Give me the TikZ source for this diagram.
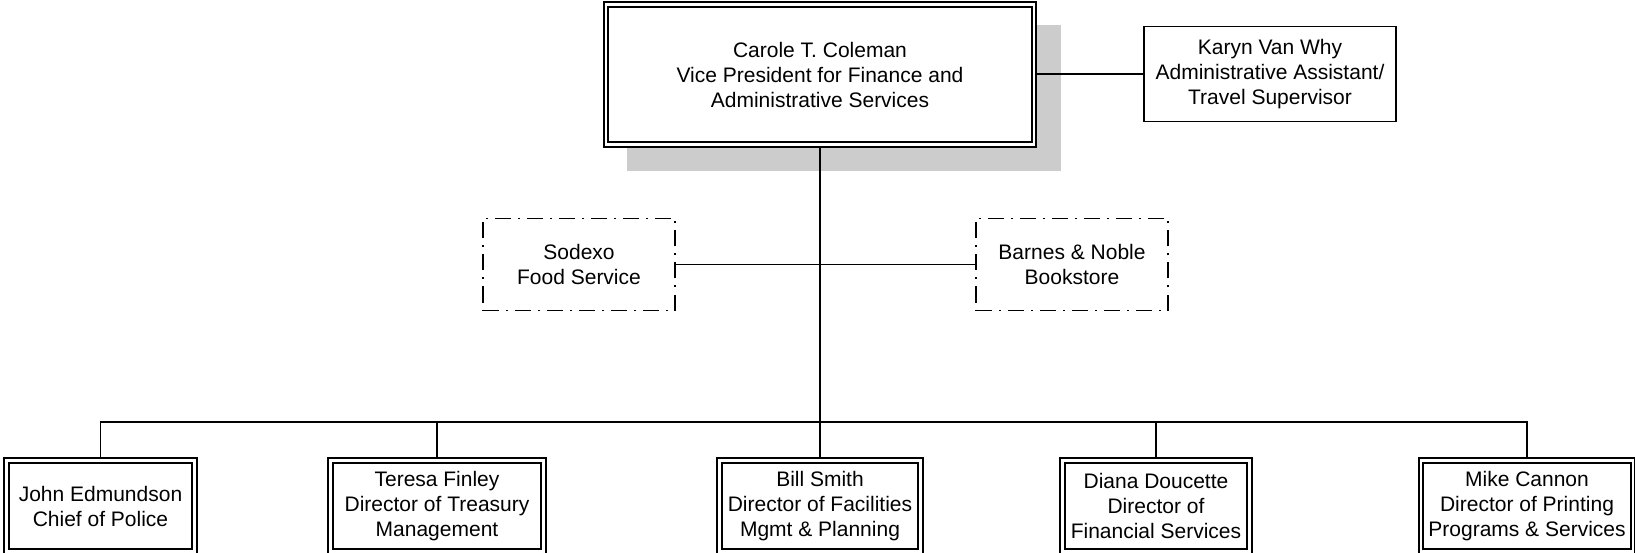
\documentclass[tikz,border=0pt]{standalone}
\usepackage{fontspec}
\setmainfont{Liberation Sans}
\usetikzlibrary{backgrounds}
\begin{document}
\begin{tikzpicture}[x=1pt,y=-1pt,
  every node/.style={font=\fontsize{21}{25}\selectfont, align=center, inner sep=0pt},
  dblbox/.style={draw, line width=1.6pt, double=white, double distance=2.9pt, fill=white, outer sep=3pt},
  plainbox/.style={draw, line width=1.8pt, fill=white},
  dashbox/.style={draw, line width=1.8pt, dash pattern=on 16pt off 7pt on 2pt off 7pt},
  conn/.style={line width=1.8pt},
  botbox/.style={dblbox, minimum height=91pt},
]
\useasboundingbox (0,0) rectangle (1635,553);

\node[dblbox, minimum width=428pt, minimum height=140pt] (vp) at (820,74.5)
  {Carole T. Coleman\\Vice President for Finance and\\Administrative Services};
\begin{scope}[on background layer]
  \fill[gray!40] ([shift={(24,24)}]vp.north west) rectangle ([shift={(24,24)}]vp.south east);
\end{scope}

\node[plainbox, minimum width=252pt, minimum height=95pt] (kvw) at (1270,74)
  {Karyn Van Why\\Administrative Assistant/\\Travel Supervisor};

\node[dashbox, minimum width=192pt, minimum height=92pt] (sod) at (579,264.5) {Sodexo\\Food Service};
\node[dashbox, minimum width=192pt, minimum height=92pt] (bn) at (1072,264.5) {Barnes \& Noble\\Bookstore};

\node[botbox, minimum width=188pt] (john) at (100.5,506) {John Edmundson\\Chief of Police};
\node[botbox, minimum width=213pt] (teresa) at (437,506) {Teresa Finley\\Director of Treasury\\Management};
\node[botbox, minimum width=201pt] (bill) at (820,506) {Bill Smith\\Director of Facilities\\Mgmt \& Planning};
\node[botbox, minimum width=187pt] (diana) at (1156,506) {Diana Doucette\\Director of\\Financial Services};
\node[botbox, minimum width=212pt] (mike) at (1527,506) {Mike Cannon\\Director of Printing\\Programs \& Services};

\coordinate (bus) at (820,422);

\draw[conn] (kvw.west) -- (kvw.west -| vp.east);
\draw[conn] (sod.east) -- (bn.west);
\draw[conn] (vp.south) -- (bill.north);
\draw[conn] (john.north) -- (john.north |- bus) -- (mike.north |- bus) -- (mike.north);
\draw[conn] (teresa.north) -- (teresa.north |- bus);
\draw[conn] (diana.north) -- (diana.north |- bus);
\end{tikzpicture}
\end{document}
